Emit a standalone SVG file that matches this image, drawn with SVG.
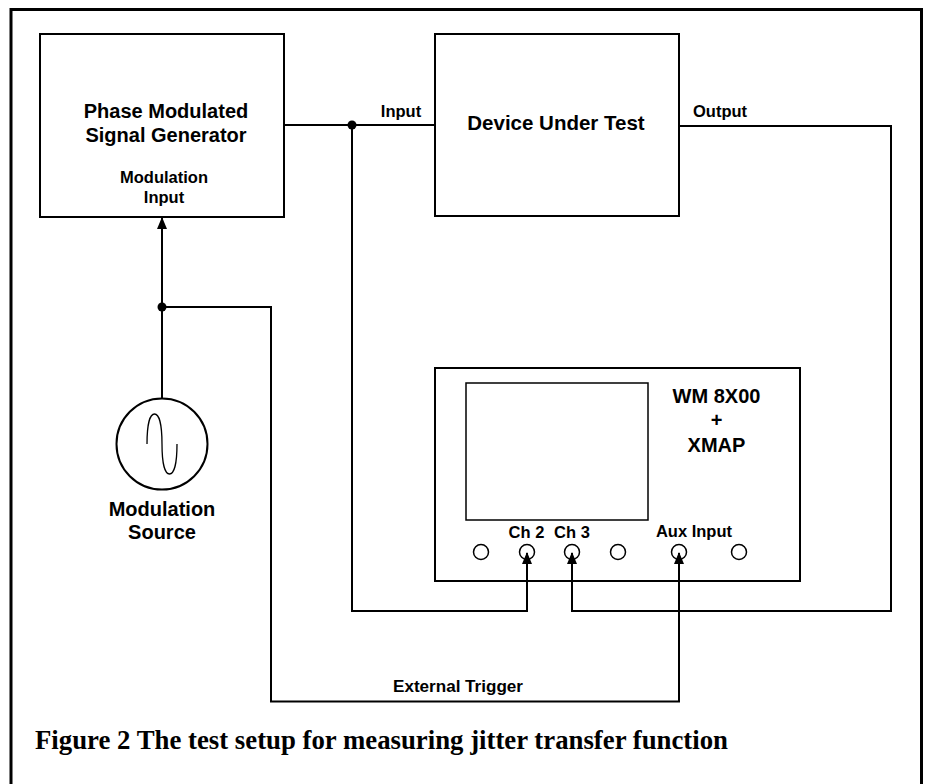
<svg xmlns="http://www.w3.org/2000/svg" width="927" height="784" viewBox="0 0 927 784">
  <style>
    .box { fill: none; stroke: #000; stroke-width: 2; }
    .thin { fill: none; stroke: #000; stroke-width: 1.5; }
    .wire { fill: none; stroke: #000; stroke-width: 2; }
    .lbl { font-family: "Liberation Sans", Arial, sans-serif; font-weight: bold; fill: #000; text-anchor: middle; }
    .big { font-size: 20px; }
    .small { font-size: 16.5px; }
    .cap { font-family: "Liberation Serif", "Times New Roman", serif; font-weight: bold; font-size: 26.5px; fill: #000; }
  </style>
  <defs>
    <marker id="arrow" viewBox="0 0 12 10" refX="11" refY="5" markerWidth="12" markerHeight="10" markerUnits="userSpaceOnUse" orient="auto" preserveAspectRatio="none">
      <path d="M0,0 L12,5 L0,10 z" fill="#000"/>
    </marker>
  </defs>
  <rect x="0" y="0" width="927" height="784" fill="#fff"/>
  <path d="M11,784 V9.5 H921.5 V784" fill="none" stroke="#000" stroke-width="3"/>

  <g id="generator">
    <rect class="box" x="40" y="34" width="244" height="183"/>
    <text class="lbl big" x="166" y="118">Phase Modulated</text>
    <text class="lbl big" x="166" y="142">Signal Generator</text>
    <text class="lbl small" x="164" y="183">Modulation</text>
    <text class="lbl small" x="164" y="203">Input</text>
  </g>

  <g id="dut">
    <rect class="box" x="435" y="34" width="244" height="182"/>
    <text class="lbl big" x="556" y="130" style="font-size:20.5px">Device Under Test</text>
  </g>

  <g id="analyzer">
    <rect class="box" x="435" y="368" width="365" height="213"/>
    <rect class="thin" x="466" y="383" width="182" height="137"/>
    <text class="lbl big" x="716.5" y="403">WM 8X00</text>
    <text class="lbl big" x="716.5" y="427">+</text>
    <text class="lbl big" x="716.5" y="452">XMAP</text>
    <circle class="thin" cx="481" cy="552" r="7.5"/>
    <circle class="thin" cx="527" cy="552" r="7.5"/>
    <circle class="thin" cx="572" cy="552" r="7.5"/>
    <circle class="thin" cx="618" cy="552" r="7.5"/>
    <circle class="thin" cx="679" cy="552" r="7.5"/>
    <circle class="thin" cx="739" cy="552" r="7.5"/>
    <text class="lbl small" x="526.5" y="538">Ch 2</text>
    <text class="lbl small" x="572" y="538">Ch 3</text>
    <text class="lbl small" x="694" y="537">Aux Input</text>
  </g>

  <g id="source">
    <circle class="box" cx="162" cy="444" r="45.5"/>
    <path d="M147,444 C147,424 150,414 154.5,414 C159,414 162,424 162,444 C162,464 165,474 169.5,474 C174,474 177,464 177,444" fill="none" stroke="#000" stroke-width="1.3"/>
    <text class="lbl big" x="162" y="516">Modulation</text>
    <text class="lbl big" x="162" y="539">Source</text>
  </g>

  <g id="connectors">
    <path class="wire" d="M284,125 H435"/>
    <circle cx="352" cy="125" r="4.5" fill="#000"/>
    <path class="wire" d="M352,125 V611 H527 V553" marker-end="url(#arrow)"/>
    <text class="lbl small" x="401" y="117">Input</text>
    <path class="wire" d="M679,126 H891 V611 H572 V553" marker-end="url(#arrow)"/>
    <text class="lbl small" x="720" y="117">Output</text>
    <path class="wire" d="M162,398.5 V218" marker-end="url(#arrow)"/>
    <circle cx="162" cy="307" r="4.5" fill="#000"/>
    <path class="wire" d="M162,307 H271 V701.5 H679 V553" marker-end="url(#arrow)"/>
    <text class="lbl" x="458" y="692" style="font-size:16px" textLength="130" lengthAdjust="spacingAndGlyphs">External Trigger</text>
  </g>

  <text class="cap" x="35" y="749" textLength="693" lengthAdjust="spacingAndGlyphs">Figure 2 The test setup for measuring jitter transfer function</text>
</svg>
